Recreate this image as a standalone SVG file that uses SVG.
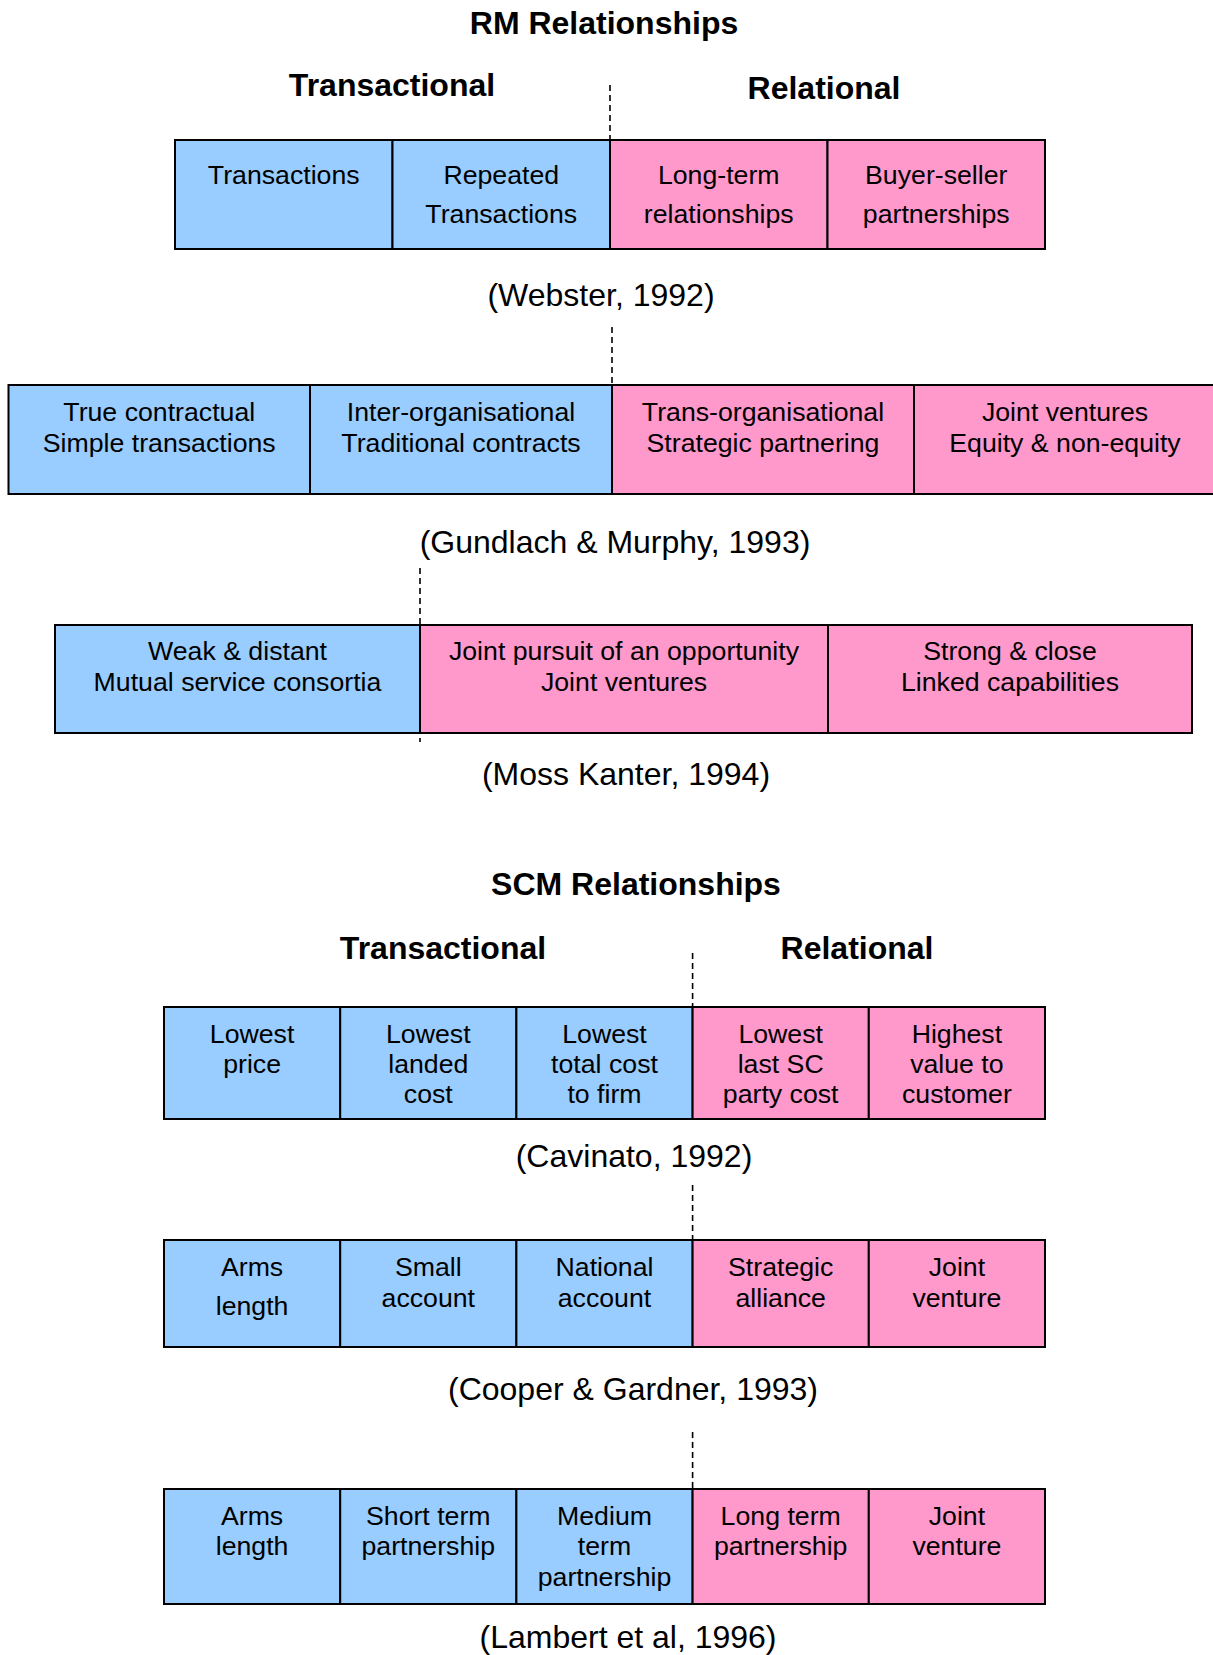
<svg xmlns="http://www.w3.org/2000/svg" width="1213" height="1655" viewBox="0 0 1213 1655">
  <style>
    text { font-family: "Liberation Sans", Arial, Helvetica, sans-serif; fill: #000; text-anchor: middle; }
    .title { font-size: 32px; font-weight: bold; }
    .head { font-size: 32px; font-weight: bold; }
    .cite { font-size: 32px; }
    .cell text { font-size: 26.7px; }
    .blue { fill: #99CCFF; stroke: #000; stroke-width: 2; }
    .pink { fill: #FF99CC; stroke: #000; stroke-width: 2; }
    .divider { stroke: #000; stroke-width: 1.6; stroke-dasharray: 6 4; fill: none; }
  </style>

  <rect width="1213" height="1655" fill="#fff"/>

  <!-- dashed boundaries between transactional and relational -->
  <g id="connectors">
    <line class="divider" x1="610" y1="85" x2="610" y2="139"/>
    <line class="divider" x1="612" y1="327" x2="612" y2="384"/>
    <line class="divider" x1="420" y1="568" x2="420" y2="742"/>
    <line class="divider" x1="692.6" y1="953" x2="692.6" y2="1006"/>
    <line class="divider" x1="692.6" y1="1185" x2="692.6" y2="1239"/>
    <line class="divider" x1="692.6" y1="1432" x2="692.6" y2="1488"/>
  </g>

  <!-- RM section headings -->
  <g id="rm-headings">
    <text class="title" x="604" y="34">RM Relationships</text>
    <text class="head" x="392" y="96">Transactional</text>
    <text class="head" x="824" y="99">Relational</text>
  </g>

  <!-- Webster 1992 -->
  <g id="webster">
    <g id="w-transactions" class="cell">
      <rect class="blue" x="175" y="140" width="217.5" height="109"/>
      <text x="283.75" y="184">Transactions</text>
    </g>
    <g id="w-repeated" class="cell">
      <rect class="blue" x="392.5" y="140" width="217.5" height="109"/>
      <text x="501.25" y="184">Repeated</text>
      <text x="501.25" y="223">Transactions</text>
    </g>
    <g id="w-longterm" class="cell">
      <rect class="pink" x="610" y="140" width="217.5" height="109"/>
      <text x="718.75" y="184">Long-term</text>
      <text x="718.75" y="223">relationships</text>
    </g>
    <g id="w-buyerseller" class="cell">
      <rect class="pink" x="827.5" y="140" width="217.5" height="109"/>
      <text x="936.25" y="184">Buyer-seller</text>
      <text x="936.25" y="223">partnerships</text>
    </g>
    <text class="cite" x="601" y="306">(Webster, 1992)</text>
  </g>

  <!-- Gundlach & Murphy 1993 -->
  <g id="gundlach">
    <g id="g-contractual" class="cell">
      <rect class="blue" x="8.5" y="385" width="301.5" height="109"/>
      <text x="159.25" y="421">True contractual</text>
      <text x="159.25" y="452">Simple transactions</text>
    </g>
    <g id="g-interorg" class="cell">
      <rect class="blue" x="310" y="385" width="302" height="109"/>
      <text x="461" y="421">Inter-organisational</text>
      <text x="461" y="452">Traditional contracts</text>
    </g>
    <g id="g-transorg" class="cell">
      <rect class="pink" x="612" y="385" width="302" height="109"/>
      <text x="763" y="421">Trans-organisational</text>
      <text x="763" y="452">Strategic partnering</text>
    </g>
    <g id="g-jointventures" class="cell">
      <rect class="pink" x="914" y="385" width="312" height="109"/>
      <text x="1065" y="421">Joint ventures</text>
      <text x="1065" y="452">Equity &amp; non-equity</text>
    </g>
    <text class="cite" x="615" y="553">(Gundlach &amp; Murphy, 1993)</text>
  </g>

  <!-- Moss Kanter 1994 -->
  <g id="kanter">
    <g id="k-weak" class="cell">
      <rect class="blue" x="55" y="625" width="365" height="108"/>
      <text x="237.5" y="660">Weak &amp; distant</text>
      <text x="237.5" y="691">Mutual service consortia</text>
    </g>
    <g id="k-joint" class="cell">
      <rect class="pink" x="420" y="625" width="408" height="108"/>
      <text x="624" y="660">Joint pursuit of an opportunity</text>
      <text x="624" y="691">Joint ventures</text>
    </g>
    <g id="k-strong" class="cell">
      <rect class="pink" x="828" y="625" width="364" height="108"/>
      <text x="1010" y="660">Strong &amp; close</text>
      <text x="1010" y="691">Linked capabilities</text>
    </g>
    <text class="cite" x="626" y="785">(Moss Kanter, 1994)</text>
  </g>

  <!-- SCM section headings -->
  <g id="scm-headings">
    <text class="title" x="636" y="895">SCM Relationships</text>
    <text class="head" x="443" y="959">Transactional</text>
    <text class="head" x="857" y="959">Relational</text>
  </g>

  <!-- Cavinato 1992 -->
  <g id="cavinato">
    <g id="c-price" class="cell">
      <rect class="blue" x="164" y="1007" width="176.2" height="112"/>
      <text x="252.1" y="1043">Lowest</text>
      <text x="252.1" y="1073">price</text>
    </g>
    <g id="c-landed" class="cell">
      <rect class="blue" x="340.2" y="1007" width="176.2" height="112"/>
      <text x="428.3" y="1043">Lowest</text>
      <text x="428.3" y="1073">landed</text>
      <text x="428.3" y="1103">cost</text>
    </g>
    <g id="c-total" class="cell">
      <rect class="blue" x="516.4" y="1007" width="176.2" height="112"/>
      <text x="604.5" y="1043">Lowest</text>
      <text x="604.5" y="1073">total cost</text>
      <text x="604.5" y="1103">to firm</text>
    </g>
    <g id="c-lastsc" class="cell">
      <rect class="pink" x="692.6" y="1007" width="176.2" height="112"/>
      <text x="780.7" y="1043">Lowest</text>
      <text x="780.7" y="1073">last SC</text>
      <text x="780.7" y="1103">party cost</text>
    </g>
    <g id="c-value" class="cell">
      <rect class="pink" x="868.8" y="1007" width="176.2" height="112"/>
      <text x="956.9" y="1043">Highest</text>
      <text x="956.9" y="1073">value to</text>
      <text x="956.9" y="1103">customer</text>
    </g>
    <text class="cite" x="634" y="1167">(Cavinato, 1992)</text>
  </g>

  <!-- Cooper & Gardner 1993 -->
  <g id="cooper">
    <g id="cg-arms" class="cell">
      <rect class="blue" x="164" y="1240" width="176.2" height="107"/>
      <text x="252.1" y="1276">Arms</text>
      <text x="252.1" y="1315">length</text>
    </g>
    <g id="cg-small" class="cell">
      <rect class="blue" x="340.2" y="1240" width="176.2" height="107"/>
      <text x="428.3" y="1276">Small</text>
      <text x="428.3" y="1307">account</text>
    </g>
    <g id="cg-national" class="cell">
      <rect class="blue" x="516.4" y="1240" width="176.2" height="107"/>
      <text x="604.5" y="1276">National</text>
      <text x="604.5" y="1307">account</text>
    </g>
    <g id="cg-alliance" class="cell">
      <rect class="pink" x="692.6" y="1240" width="176.2" height="107"/>
      <text x="780.7" y="1276">Strategic</text>
      <text x="780.7" y="1307">alliance</text>
    </g>
    <g id="cg-venture" class="cell">
      <rect class="pink" x="868.8" y="1240" width="176.2" height="107"/>
      <text x="956.9" y="1276">Joint</text>
      <text x="956.9" y="1307">venture</text>
    </g>
    <text class="cite" x="633" y="1400">(Cooper &amp; Gardner, 1993)</text>
  </g>

  <!-- Lambert et al 1996 -->
  <g id="lambert">
    <g id="l-arms" class="cell">
      <rect class="blue" x="164" y="1489" width="176.2" height="115"/>
      <text x="252.1" y="1525">Arms</text>
      <text x="252.1" y="1555">length</text>
    </g>
    <g id="l-short" class="cell">
      <rect class="blue" x="340.2" y="1489" width="176.2" height="115"/>
      <text x="428.3" y="1525">Short term</text>
      <text x="428.3" y="1555">partnership</text>
    </g>
    <g id="l-medium" class="cell">
      <rect class="blue" x="516.4" y="1489" width="176.2" height="115"/>
      <text x="604.5" y="1525">Medium</text>
      <text x="604.5" y="1555">term</text>
      <text x="604.5" y="1586">partnership</text>
    </g>
    <g id="l-long" class="cell">
      <rect class="pink" x="692.6" y="1489" width="176.2" height="115"/>
      <text x="780.7" y="1525">Long term</text>
      <text x="780.7" y="1555">partnership</text>
    </g>
    <g id="l-venture" class="cell">
      <rect class="pink" x="868.8" y="1489" width="176.2" height="115"/>
      <text x="956.9" y="1525">Joint</text>
      <text x="956.9" y="1555">venture</text>
    </g>
    <text class="cite" x="628" y="1648">(Lambert et al, 1996)</text>
  </g>
</svg>
